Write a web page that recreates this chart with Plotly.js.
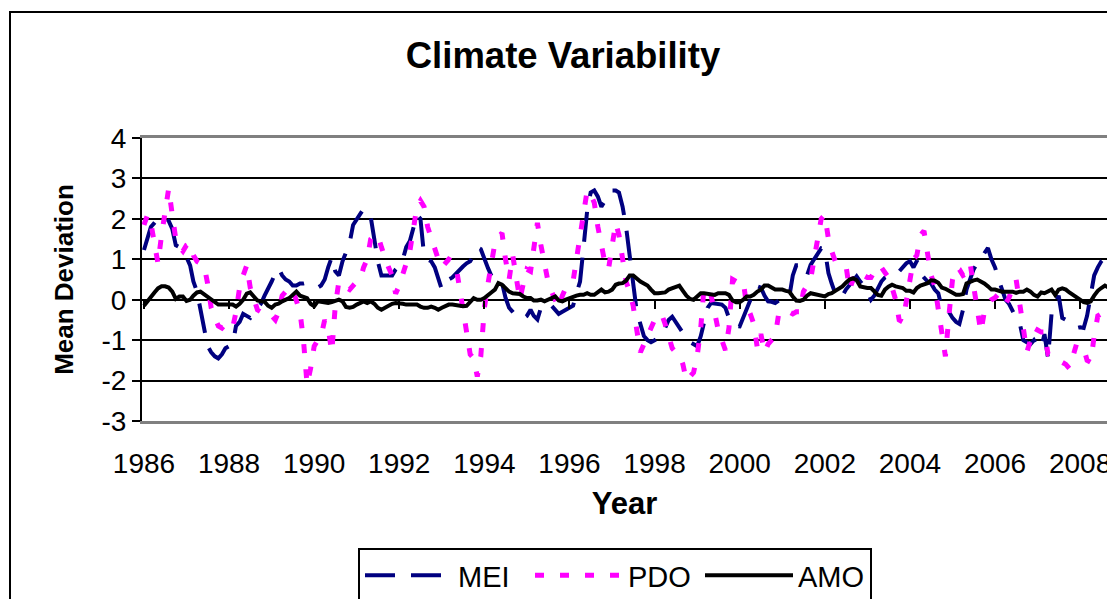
<!DOCTYPE html>
<html>
<head>
<meta charset="utf-8">
<script src="https://cdn.plot.ly/plotly-3.0.1.min.js"></script>
<style>
  html, body { margin: 0; padding: 0; width: 1107px; height: 599px; overflow: hidden; background: #fff; }
  #frame { position: absolute; left: 9px; top: 11px; width: 1200px; height: 700px; border: 2px solid #000; box-sizing: border-box; }
  #chart { position: absolute; left: 0; top: 0; width: 1107px; height: 599px; }
</style>
</head>
<body>
<div id="frame"></div>
<div id="chart"></div>
<script>
// Monthly index values, January 1986 onwards (one row per year).
const startYear = 1986;

const mei = [
  1.23, 1.5, 1.8, 1.9, 2.0, 2.0, 2.05, 1.95, 1.75, 1.35, 1.3, 1.2,
  1.05, 0.85, 0.45, 0.2, -0.25, -0.75, -1.15, -1.3, -1.4, -1.45, -1.35, -1.2,
  -1.15, -1.1, -0.65, -0.55, -0.35, -0.4, -0.45, -0.3, -0.2, -0.1, 0.1, 0.3,
  0.45, 0.65, 0.78, 0.6, 0.5, 0.45, 0.35, 0.35, 0.4, 0.4, 0.42, 0.38,
  0.35, 0.3, 0.35, 0.5, 0.8, 1.05, 0.7, 0.6, 0.95, 1.15, 1.4, 1.85,
  2.0, 2.15, 2.25, 2.2, 2.05, 1.5, 0.95, 0.6, 0.6, 0.6, 0.6, 0.75,
  0.85, 1.0, 1.3, 1.45, 1.75, 2.1, 2.0, 1.1, 1.0, 0.95, 0.8, 0.55,
  0.25, 0.35, 0.5, 0.55, 0.65, 0.75, 0.82, 0.9, 0.95, 1.1, 1.3, 1.25,
  1.0, 0.78, 0.6, 0.45, 0.42, 0.42, 0.05, -0.2, -0.3, -0.41, -0.45, -0.47,
  -0.4, -0.25, -0.4, -0.49, -0.2, -0.1, -0.1, -0.15, -0.25, -0.35, -0.3, -0.25,
  -0.2, -0.15, 0.15, 0.45, 1.3, 2.2, 2.65, 2.7, 2.55, 2.3, 2.45, 2.65,
  2.7, 2.7, 2.65, 2.3, 1.8, 1.1, 0.3, -0.3, -0.6, -0.9, -1.0, -1.05,
  -1.0, -0.95, -0.9, -0.7, -0.5, -0.42, -0.55, -0.7, -0.85, -0.95, -1.05, -1.1,
  -1.15, -0.9, -0.6, -0.2, -0.08, -0.1, -0.1, -0.12, -0.2, -0.45, -0.6, -0.65,
  -0.66, -0.45, -0.2, 0.0, 0.2, 0.33, 0.3, 0.1, -0.04, -0.05, -0.08, -0.02,
  0.0, 0.05, 0.05, 0.6, 0.85, 0.85, 0.66, 0.6, 0.86, 1.0, 1.12, 1.27,
  1.25, 0.66, 0.4, 0.15, 0.04, 0.1, 0.25, 0.35, 0.45, 0.58, 0.45, 0.35,
  0.2, 0.0, 0.1, 0.3, 0.45, 0.55, 0.6, 0.62, 0.62, 0.7, 0.8, 0.9,
  0.95, 0.8, 0.96, 0.66, 0.55, 0.45, 0.4, 0.25, 0.16, -0.2, -0.25, -0.3,
  -0.45, -0.55, -0.6, -0.25, 0.25, 0.5, 0.75, 0.9, 1.0, 1.15, 1.28, 1.0,
  0.8, 0.5, 0.25, 0.0, -0.1, -0.3, -0.45, -0.58, -1.0, -1.05, -1.1, -1.0,
  -1.15, -1.2, -0.85, -1.45, -0.35, -0.1, 0.1, -0.45, -0.5, -0.6, -0.65, -0.7,
  -0.68, -0.7, -0.4, 0.1, 0.6, 0.8, 0.95, 1.05, 1.0
];

const pdo = [
  1.85, 2.1, 1.9, 1.3, 0.9, 1.6, 2.2, 2.75, 2.1, 1.5, 1.3, 1.2,
  1.35, 1.4, 1.1, 0.95, 0.9, 0.85, 0.4, -0.2, -0.45, -0.65, -0.7, -0.6,
  -0.65, -0.7, -0.3, 0.3, 0.6, 0.85, 0.3, 0.0, -0.25, -0.3, -0.35, -0.3,
  -0.4, -0.5, -0.3, 0.1, 0.2, 0.3, 0.25, 0.0, -0.3, -1.0, -2.1, -1.7,
  -1.15, -1.0, -0.9, -0.5, -0.7, -1.3, -0.15, 0.45, 0.35, 0.3, 0.25, 0.35,
  0.45, 0.5, 0.8, 1.0, 1.5, 1.6, 1.6, 1.3, 1.0, 0.8, 0.6, 0.15,
  0.35, 0.6, 0.9, 1.2, 1.85, 2.3, 2.45, 2.3, 1.8, 1.5, 1.2, 1.0,
  0.8, 0.9, 1.0, 0.95, 0.85, 0.3, -0.3, -0.9, -1.35, -1.45, -1.9, -1.4,
  -0.2, 0.4, 0.95, 1.4, 1.55, 1.65, 1.0, 0.5, 1.1, 0.55, 0.0, 0.4,
  0.75, 0.7, 1.3, 1.9, 1.35, 0.8, 0.45, 0.2, 0.0, -0.2, 0.1, 0.3,
  0.4, 0.45, 1.0, 1.6, 2.2, 2.7, 2.6, 2.4, 1.8, 1.3, 0.9, 0.75,
  1.3, 1.9, 1.6, 1.0, 0.45, 0.2, -0.15, -0.75, -1.3, -1.1, -0.9, -0.7,
  -0.5, -0.4, -0.35, -0.6, -0.9, -1.2, -1.3, -1.35, -1.6, -2.0, -1.9, -1.8,
  -1.4, -0.7, 0.3, 0.3, 0.1, -0.3, -0.75, -1.0, -1.25, -0.7, 0.5, 0.45,
  0.4, 0.45, -0.15, -0.35, -0.6, -1.2, -0.85, -1.3, -1.1, -1.0, -0.9, -0.35,
  -0.3, -0.35, -0.3, -0.35, -0.3, -0.3, 0.2, 0.35, 0.5, 1.0, 1.6, 2.0,
  2.1, 1.5, 1.2, 0.95, 0.9, 0.85, 0.85, 0.25, 0.5, 0.7, 0.65, 0.6,
  0.55, 0.55, 0.7, 0.85, 0.8, 0.65, 0.55, 0.3, 0.0, -0.5, -0.55, -0.05,
  0.5, 1.0, 1.1, 1.6, 1.7, 1.2, 0.6, 0.35, -0.25, -0.9, -1.4, -0.4,
  0.5, 0.8, 0.75, 0.6, 0.65, 0.9, 0.35, -0.3, -0.8, -0.3, -0.1, 0.0,
  0.05, 0.15, 0.0, -0.1, 0.05, 0.3, 0.5, -0.1, -0.7, -1.3, -1.0, -0.7,
  -0.75, -0.8, -0.8, -1.35, -1.4, -1.5, -1.5, -1.55, -1.6, -1.7, -1.4, -1.1,
  -1.15, -1.2, -1.5, -1.55, -0.9, -0.4, -0.35, -0.3, -0.25
];

const amo = [
  -0.15, -0.03, 0.1, 0.18, 0.28, 0.33, 0.33, 0.3, 0.2, 0.02, 0.08, 0.08,
  -0.03, 0.0, 0.1, 0.18, 0.2, 0.13, 0.08, 0.0, -0.08, -0.12, -0.12, -0.12,
  -0.12, -0.12, -0.17, -0.1, 0.0, 0.15, 0.18, 0.08, -0.02, -0.04, -0.05, -0.15,
  -0.2, -0.12, -0.1, -0.04, 0.0, 0.04, 0.12, 0.2, 0.1, 0.08, 0.04, -0.1,
  -0.16, -0.04, -0.06, -0.08, -0.08, -0.06, -0.04, 0.0, -0.04, -0.18, -0.2, -0.18,
  -0.12, -0.08, -0.04, -0.08, -0.04, -0.1, -0.2, -0.25, -0.2, -0.17, -0.1, -0.08,
  -0.08, -0.1, -0.12, -0.12, -0.1, -0.12, -0.17, -0.2, -0.2, -0.17, -0.2, -0.25,
  -0.2, -0.15, -0.12, -0.12, -0.14, -0.16, -0.16, -0.15, -0.04, 0.04, 0.0, 0.0,
  0.04, 0.1, 0.18, 0.25, 0.41, 0.37, 0.28, 0.2, 0.16, 0.16, 0.14, 0.08,
  0.04, 0.04, -0.02, -0.02, 0.0, -0.04, 0.0, 0.04, 0.08, -0.02, -0.04, 0.0,
  0.04, 0.08, 0.1, 0.12, 0.12, 0.16, 0.12, 0.12, 0.2, 0.25, 0.18, 0.2,
  0.25, 0.37, 0.4, 0.41, 0.47, 0.6, 0.6, 0.52, 0.45, 0.4, 0.35, 0.25,
  0.16, 0.16, 0.16, 0.18, 0.25, 0.28, 0.33, 0.35, 0.22, 0.1, 0.02, 0.0,
  0.08, 0.16, 0.16, 0.14, 0.12, 0.12, 0.16, 0.16, 0.16, 0.12, -0.02, -0.06,
  -0.06, 0.0, 0.08, 0.08, 0.12, 0.2, 0.25, 0.35, 0.35, 0.3, 0.25, 0.25,
  0.25, 0.22, 0.2, 0.08, -0.02, -0.03, 0.0, 0.1, 0.16, 0.14, 0.12, 0.1,
  0.08, 0.14, 0.16, 0.22, 0.27, 0.33, 0.42, 0.5, 0.53, 0.48, 0.33, 0.3,
  0.29, 0.29, 0.22, 0.12, 0.1, 0.25, 0.32, 0.37, 0.33, 0.3, 0.29, 0.22,
  0.22, 0.18, 0.29, 0.35, 0.37, 0.41, 0.48, 0.47, 0.42, 0.3, 0.27, 0.22,
  0.16, 0.12, 0.12, 0.14, 0.4, 0.45, 0.48, 0.5, 0.46, 0.4, 0.33, 0.25,
  0.25, 0.22, 0.2, 0.2, 0.2, 0.2, 0.17, 0.2, 0.2, 0.25, 0.2, 0.12,
  0.08, 0.18, 0.16, 0.2, 0.25, 0.12, 0.25, 0.28, 0.25, 0.18, 0.12, 0.05,
  0.0, -0.06, -0.08, -0.04, 0.1, 0.22, 0.29, 0.35, 0.3
];

// Value-axis ticks, labelled with a plain hyphen for negatives.
const yTickVals = [-3, -2, -1, 0, 1, 2, 3, 4];
const yTickText = ['-3', '-2', '-1', '0', '1', '2', '3', '4'];

// First-of-month dates for each value.
const months = mei.map((_, i) => {
  const y = startYear + Math.floor(i / 12);
  const m = String(i % 12 + 1).padStart(2, '0');
  return y + '-' + m + '-01';
});

const xRange = ['1985-12-15', '2008-08-19'];
const FONT = '"Liberation Sans", Arial, sans-serif';

const traces = [
  { x: months, y: mei, name: 'MEI', type: 'scatter', mode: 'lines',
    line: { color: '#000080', width: 4, dash: '30px,16px' } },
  { x: months, y: pdo, name: 'PDO', type: 'scatter', mode: 'lines',
    line: { color: '#FF00FF', width: 5, dash: '9px,16px' } },
  { x: months, y: amo, name: 'AMO', type: 'scatter', mode: 'lines', xaxis: 'x2',
    line: { color: '#000000', width: 4 } }
];

const layout = {
  width: 1107, height: 599,
  margin: { l: 142, r: 0, t: 138, b: 178 },
  paper_bgcolor: 'rgba(0,0,0,0)',
  plot_bgcolor: 'rgba(0,0,0,0)',
  font: { family: FONT, color: '#000' },
  showlegend: true,
  title: {
    text: 'Climate Variability',
    font: { size: 36.5, weight: 'bold', color: '#000' },
    xref: 'container', x: 563 / 1107, xanchor: 'center',
    yref: 'container', y: 1 - 55 / 599, yanchor: 'middle'
  },
  // date axis with year labels along the bottom of the plot area
  xaxis: {
    type: 'date', range: xRange,
    tickmode: 'linear', tick0: '1986-01-01', dtick: 'M24', tickformat: '%Y',
    tickfont: { size: 28 }, ticks: '', ticklabelstandoff: 15,
    ticklabeloverflow: 'allow',
    showgrid: false, zeroline: false,
    showline: true, linecolor: '#808080', linewidth: 3, mirror: true,
    title: { text: 'Year', font: { size: 31, weight: 'bold' }, standoff: 15 }
  },
  // the same axis crossing at zero, carrying only tick marks
  xaxis2: {
    type: 'date', range: xRange, overlaying: 'x', matches: 'x',
    anchor: 'free', position: 3 / 7, side: 'bottom',
    tickmode: 'linear', tick0: '1986-01-01', dtick: 'M24',
    ticks: 'outside', ticklen: 8, tickwidth: 2, tickcolor: '#000',
    showticklabels: false, showgrid: false, zeroline: false, showline: false
  },
  yaxis: {
    range: [-3, 4], tickmode: 'array', tickvals: yTickVals, ticktext: yTickText,
    tickfont: { size: 28 },
    ticks: 'outside', ticklen: 8, tickwidth: 2, tickcolor: '#000',
    showgrid: true, gridcolor: '#000', gridwidth: 2, zeroline: false,
    showline: true, linecolor: '#000', linewidth: 2,
    title: { text: 'Mean Deviation', font: { size: 26, weight: 'bold' }, standoff: 20 }
  },
  legend: {
    orientation: 'h', traceorder: 'normal',
    xref: 'container', yref: 'container',
    x: 358 / 1107, xanchor: 'left',
    y: 1 - 548 / 599, yanchor: 'top',
    bgcolor: '#fff', bordercolor: '#000', borderwidth: 2,
    font: { size: 29 }, itemwidth: 88, entrywidth: 67
  }
};

Plotly.newPlot('chart', traces, layout, { staticPlot: true, displayModeBar: false });
</script>
</body>
</html>
